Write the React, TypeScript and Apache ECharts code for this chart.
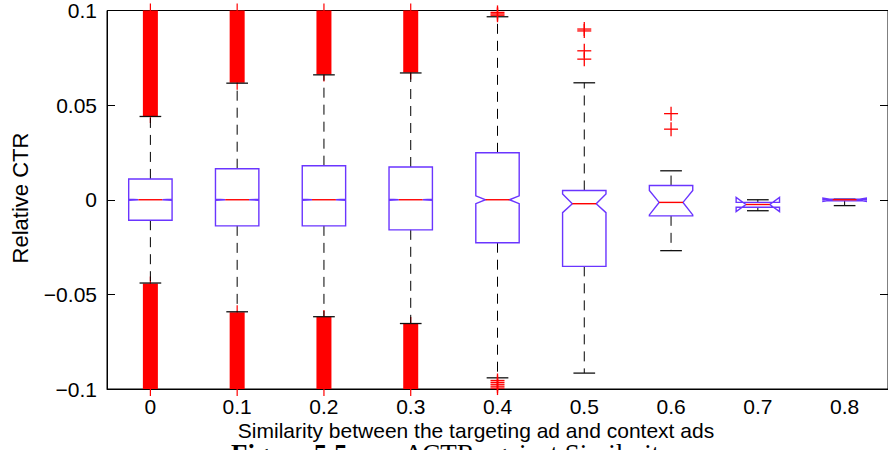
import React, { useEffect, useRef } from 'react';
import * as echarts from 'echarts';

// ---- data ----
const categories = ['0', '0.1', '0.2', '0.3', '0.4', '0.5', '0.6', '0.7', '0.8'];
const whiskerLow = [-0.044, -0.0592, -0.0618, -0.0654, -0.0941, -0.0916, -0.0269, -0.0058, -0.0031];
const quartile1 = [-0.0108, -0.0138, -0.0138, -0.0159, -0.0227, -0.0352, -0.0085, -0.004, -0.0006];
const notchLow = [-0.0003, -0.0003, -0.0003, -0.0003, -0.0021, -0.0068, -0.008, -0.0063, -0.0009];
const medians = [0, 0, 0, 0, 0, -0.0021, -0.0014, -0.0025, 0];
const notchHigh = [0.0003, 0.0003, 0.0003, 0.0003, 0.0021, 0.0031, 0.0049, 0.0012, 0.0009];
const quartile3 = [0.011, 0.0164, 0.018, 0.0173, 0.0248, 0.0049, 0.0075, -0.0014, 0.0003];
const whiskerHigh = [0.044, 0.0616, 0.066, 0.067, 0.0967, 0.0618, 0.0153, 0.0, 0.0003];

// dense runs of outliers (so many '+' that they merge into a solid bar)
const denseCategory = [0, 0, 1, 1, 2, 2, 3, 3];
const denseFrom = [0.0442, -0.0442, 0.0618, -0.0594, 0.0662, -0.062, 0.0672, -0.0656];
const denseTo = [0.1, -0.1, 0.1, -0.1, 0.1, -0.1, 0.1, -0.1];

// individual outliers
const outlierCategory = [4, 4, 4, 4, 4, 4, 4, 4, 5, 5, 5, 5, 6, 6];
const outlierValue = [0.0975, 0.0982, 0.099, -0.0955, -0.0965, -0.0975, -0.0985, -0.0995, 0.0902, 0.0892, 0.0787, 0.0743, 0.0455, 0.0373];

const yTicks = { min: -0.1, max: 0.1, interval: 0.05 };

const BOX_COLOR = '#6a35ff';
const RED = '#ff0000';
const FONT = 'Liberation Sans, Arial, Helvetica, sans-serif';
const SERIF = 'Liberation Serif, Times New Roman, serif';

export default function App() {
  const ref = useRef<HTMLDivElement>(null);

  useEffect(() => {
    if (!ref.current) return;
    const chart = echarts.init(ref.current, undefined, { renderer: 'svg' });

    const boxData = categories.map((_, i) => [
      i, whiskerLow[i], quartile1[i], notchLow[i], medians[i], notchHigh[i], quartile3[i], whiskerHigh[i],
    ]);
    const denseData = denseCategory.map((c, i) => [c, denseFrom[i], denseTo[i]]);
    const outlierData = outlierCategory.map((c, i) => [c, outlierValue[i]]);

    const yFmt = (v: number) => {
      const r = Math.round(v * 100) / 100;
      if (r === 0) return '0';
      return (r < 0 ? '\u2212' : '') + String(Math.abs(r));
    };

    const yAxisBase = {
      type: 'value',
      min: yTicks.min,
      max: yTicks.max,
      interval: yTicks.interval,
      axisLine: { show: true, lineStyle: { color: '#000', width: 1 } },
      axisTick: { show: true, inside: true, length: 8, lineStyle: { color: '#000', width: 1 } },
      splitLine: { show: false },
    };

    const option: any = {
      animation: false,
      grid: {
        left: 107, top: 7, width: 782, height: 382,
        show: true, borderColor: '#000', borderWidth: 1, backgroundColor: 'transparent',
      },
      xAxis: {
        type: 'category',
        data: categories,
        boundaryGap: true,
        axisLine: { show: true, onZero: false, lineStyle: { color: '#000', width: 1 } },
        axisTick: { show: false },
        axisLabel: { color: '#000', fontSize: 21, fontFamily: FONT, margin: 7 },
        splitLine: { show: false },
      },
      yAxis: [
        {
          ...yAxisBase,
          position: 'left',
          axisLabel: { color: '#000', fontSize: 21, fontFamily: FONT, margin: 10, formatter: yFmt },
        },
        {
          ...yAxisBase,
          position: 'right',
          axisLabel: { show: false },
        },
      ],
      graphic: [
        {
          type: 'text',
          x: 20, y: 198,
          rotation: Math.PI / 2,
          style: {
            text: 'Relative CTR', fill: '#000', fontSize: 22, fontFamily: FONT,
            align: 'center', verticalAlign: 'middle',
          },
        },
        {
          type: 'text',
          x: 476, y: 430,
          style: {
            text: 'Similarity between the targeting ad and context ads', fill: '#000',
            fontSize: 21, fontFamily: FONT, align: 'center', verticalAlign: 'middle',
          },
        },
        {
          type: 'text',
          x: 231, y: 454,
          style: {
            text: 'Figure 5.5:', fill: '#000', fontSize: 27, fontWeight: 'bold',
            fontFamily: SERIF, align: 'left', verticalAlign: 'middle',
          },
        },
        {
          type: 'text',
          x: 405, y: 454,
          style: {
            text: '\u0394CTR against Similarity', fill: '#000', fontSize: 27,
            fontFamily: SERIF, align: 'left', verticalAlign: 'middle',
          },
        },
      ],
      series: [
        {
          type: 'custom',
          name: 'dense outliers',
          clip: false,
          data: denseData,
          encode: { x: 0, y: [1, 2] },
          renderItem: (params: any, api: any) => {
            const c = api.value(0);
            const p1 = api.coord([c, api.value(1)]);
            const p2 = api.coord([c, api.value(2)]);
            const x = p1[0];
            const yTop = Math.min(p1[1], p2[1]);
            const yBot = Math.max(p1[1], p2[1]);
            return {
              type: 'group',
              children: [
                {
                  type: 'rect',
                  shape: { x: x - 7.5, y: yTop, width: 15, height: yBot - yTop },
                  style: { fill: RED },
                },
                {
                  type: 'line',
                  shape: { x1: x, y1: yTop - 7, x2: x, y2: yBot + 7 },
                  style: { stroke: RED, lineWidth: 1.2 },
                },
              ],
            };
          },
          z: 2,
        },
        {
          type: 'custom',
          name: 'boxes',
          data: boxData,
          encode: { x: 0, y: [1, 2, 3, 4, 5, 6, 7] },
          renderItem: (params: any, api: any) => {
            const i = api.value(0);
            const yv = (k: number) => api.coord([i, api.value(k)])[1];
            const x = api.coord([i, 0])[0];
            const band = api.size([1, 0])[0];
            const hw = band * 0.25;
            const capHw = band * 0.125;
            const nd = hw * 0.45;
            const wl = yv(1), q1 = yv(2), nl = yv(3), md = yv(4), nh = yv(5), q3 = yv(6), wh = yv(7);
            const whiskerStyle = { stroke: '#000', lineWidth: 1, lineDash: [10, 7] };
            const capStyle = { stroke: '#111', lineWidth: 1.3 };
            const points = [
              [x - hw, q1], [x - hw, nl], [x - hw + nd, md], [x - hw, nh], [x - hw, q3],
              [x + hw, q3], [x + hw, nh], [x + hw - nd, md], [x + hw, nl], [x + hw, q1],
            ];
            return {
              type: 'group',
              children: [
                { type: 'line', shape: { x1: x, y1: q3, x2: x, y2: wh }, style: whiskerStyle },
                { type: 'line', shape: { x1: x, y1: q1, x2: x, y2: wl }, style: whiskerStyle },
                { type: 'line', shape: { x1: x - capHw, y1: wh, x2: x + capHw, y2: wh }, style: capStyle },
                { type: 'line', shape: { x1: x - capHw, y1: wl, x2: x + capHw, y2: wl }, style: capStyle },
                {
                  type: 'polygon',
                  shape: { points },
                  style: { fill: 'none', stroke: BOX_COLOR, lineWidth: 1.4 },
                },
                {
                  type: 'line',
                  shape: { x1: x - hw + nd, y1: md, x2: x + hw - nd, y2: md },
                  style: { stroke: RED, lineWidth: 1.4 },
                },
              ],
            };
          },
          z: 3,
        },
        {
          type: 'custom',
          name: 'outliers',
          clip: false,
          data: outlierData,
          encode: { x: 0, y: 1 },
          renderItem: (params: any, api: any) => {
            const p = api.coord([api.value(0), api.value(1)]);
            return {
              type: 'group',
              children: [
                { type: 'line', shape: { x1: p[0] - 7, y1: p[1], x2: p[0] + 7, y2: p[1] }, style: { stroke: RED, lineWidth: 1.3 } },
                { type: 'line', shape: { x1: p[0], y1: p[1] - 7, x2: p[0], y2: p[1] + 7 }, style: { stroke: RED, lineWidth: 1.3 } },
              ],
            };
          },
          z: 4,
        },
      ],
    };

    chart.setOption(option);
    return () => chart.dispose();
  }, []);

  return (
    <div
      ref={ref}
      style={{ position: 'fixed', left: 0, top: 0, width: 888, height: 450, background: '#fff' }}
    />
  );
}
